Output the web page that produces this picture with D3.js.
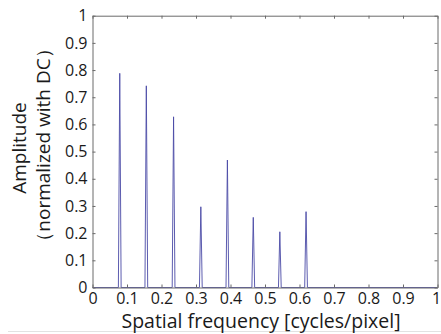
<!DOCTYPE html>
<html><head><meta charset="utf-8">
<script src="https://cdn.jsdelivr.net/npm/d3@7"></script>
<style>body{margin:0;background:#fff}svg{display:block}text{font-family:"Open Sans",sans-serif;fill:#1a1a1a}</style>
</head><body><svg id="c" width="441" height="334"></svg>
<script>
const peakFreqs = [0.079, 0.156, 0.235, 0.314, 0.391, 0.466, 0.543, 0.619];
const peakAmps  = [0.788, 0.742, 0.628, 0.297, 0.469, 0.258, 0.205, 0.279];
const xTicks = [0, 0.1, 0.2, 0.3, 0.4, 0.5, 0.6, 0.7, 0.8, 0.9, 1];
const yTicks = [0, 0.1, 0.2, 0.3, 0.4, 0.5, 0.6, 0.7, 0.8, 0.9, 1];
const xTickLabels = ["0","0.1","0.2","0.3","0.4","0.5","0.6","0.7","0.8","0.9","1"];
const yTickLabels = ["0","0.1","0.2","0.3","0.4","0.5","0.6","0.7","0.8","0.9","1"];
const halfWidth = 0.004;

const svg = d3.select("#c");
const L = 92.5, R = 437.5, T = 15.7, B = 287.5;
const x = d3.scaleLinear().domain([0,1]).range([L,R]);
const y = d3.scaleLinear().domain([0,1]).range([B,T]);
const axisColor = "#6a6a6a";

// faint bottom separator
svg.append("line").attr("x1",8).attr("x2",441).attr("y1",331.5).attr("y2",331.5)
  .attr("stroke","#e2e2e2").attr("stroke-width",1);

// spectrum line
const pts = [[0,0]];
peakFreqs.forEach((f,i)=>{ pts.push([f-halfWidth,0],[f,peakAmps[i]],[f+halfWidth,0]); });
pts.push([1,0]);
svg.append("path").datum(pts)
  .attr("d", d3.line().x(d=>x(d[0])).y(d=>y(d[1])))
  .attr("fill","none").attr("stroke","#4a4aa6").attr("stroke-width",0.9);

// axes
const fmtX = (d,i)=>xTickLabels[i], fmtY=(d,i)=>yTickLabels[i];
const gB = svg.append("g").attr("transform",`translate(0,${B})`)
  .call(d3.axisBottom(x).tickValues(xTicks).tickFormat(fmtX).tickSizeInner(-3).tickSizeOuter(0).tickPadding(5));
const gT = svg.append("g").attr("transform",`translate(0,${T})`)
  .call(d3.axisTop(x).tickValues(xTicks).tickFormat("").tickSizeInner(-3).tickSizeOuter(0));
const gL = svg.append("g").attr("transform",`translate(${L},0)`)
  .call(d3.axisLeft(y).tickValues(yTicks).tickFormat(fmtY).tickSizeInner(-3).tickSizeOuter(0).tickPadding(5));
const gR = svg.append("g").attr("transform",`translate(${R},0)`)
  .call(d3.axisRight(y).tickValues(yTicks).tickFormat("").tickSizeInner(-3).tickSizeOuter(0));
[gB,gT,gL,gR].forEach(g=>{
  g.select(".domain").attr("stroke",axisColor).attr("stroke-width",1);
  g.selectAll(".tick line").attr("stroke",axisColor);
  g.selectAll("text").style("font-family",'"Open Sans",sans-serif').style("font-size","16px").attr("fill","#1a1a1a");
});
gB.selectAll("text").attr("dy","0.71em");
gB.selectAll(".tick").filter((d,i)=>i===xTicks.length-1).select("text").attr("x",-1.5);

// titles
svg.append("text").attr("x",(L+R)/2 - 4).attr("y",327.5).attr("text-anchor","middle")
  .style("font-size","19.5px").text("Spatial frequency [cycles/pixel]");
svg.append("text").attr("transform","translate(26,148) rotate(-90)").attr("text-anchor","middle")
  .style("font-size","19px").text("Amplitude");
svg.append("text").attr("transform","translate(50,145) rotate(-90)").attr("text-anchor","middle")
  .style("font-size","19px").text("（normalized with DC）");
</script></body></html>
